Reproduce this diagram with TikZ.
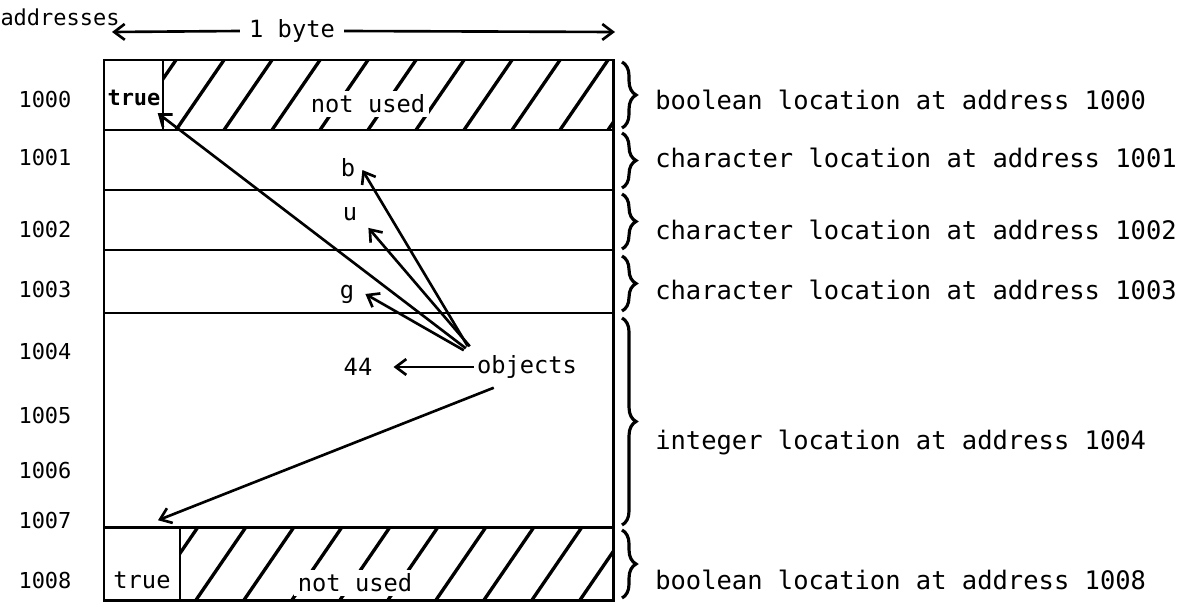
\documentclass[tikz,border=0pt]{standalone}
\usepackage{fontspec}
\setmonofont{DejaVu Sans Mono}
\usetikzlibrary{arrows.meta, positioning, decorations.pathreplacing, calc}

\begin{document}
\begin{tikzpicture}[
  x=0.02cm, y=-0.02cm,
  >={Straight Barb[length=6pt, width=9pt]},
  line width=1.7pt,
  addr/.style  = {font=\ttfamily\fontsize{12.5}{14}\selectfont, inner sep=1pt},
  desc/.style  = {font=\ttfamily\fontsize{14.5}{16}\selectfont, inner sep=1pt, anchor=west},
  val/.style   = {font=\ttfamily\fontsize{13.5}{16}\selectfont, inner sep=1pt},
  flag/.style  = {font=\ttfamily\fontsize{12.5}{14}\selectfont, inner sep=1pt},
  brc/.style   = {decorate, decoration={brace, amplitude=8pt}, line width=1.8pt},
  ptr/.style   = {->, line width=1.5pt},
]
  \useasboundingbox (0,0) rectangle (1189,615);

  % header
  \node[addr] (addrhd) at (60,17) {addresses};
  \node[val]  (byte)   at (292,31) {1 byte};
  \coordinate (bleft)  at (112,32);
  \coordinate (bright) at (615,32);
  \draw[->, line width=1.5pt] ($(byte.west)+(-6,0)$) -- (bleft);
  \draw[->, line width=1.5pt] ($(byte.east)+(6,0)$) -- (bright);

  % memory cells
  \draw (104,60) rectangle (613,600);
  \foreach \yy in {130,190,250,313,527}
    \draw (104,\yy) -- (613,\yy);
  \draw (163,60) -- (163,130);
  \draw (180,527) -- (180,600);

  % hatching of unused bytes
  \begin{scope}
    \clip (163,60) rectangle (613,130);
    \foreach \xx in {128,176,...,660}
      \draw[line width=1.9pt] (\xx,130) -- ++(48,-70);
  \end{scope}
  \begin{scope}
    \clip (180,527) rectangle (613,600);
    \foreach \xx in {148,196,...,660}
      \draw[line width=1.9pt] (\xx,600) -- ++(50,-73);
  \end{scope}
  \node[val, fill=white, inner sep=2pt] (nu1) at (368,104) {not used};
  \node[val, fill=white, inner sep=2pt] (nu2) at (355,583) {not used};

  % addresses
  \foreach \a/\yy in {1000/100,1001/158,1002/230,1003/290,1004/352,
                      1005/415,1006/470,1007/520,1008/580}
    \node[addr] (a\a) at (45,\yy) {\a};

  % contents
  \node[flag] (t1000) at (134,98)  {\bfseries true};
  \node[val]  (cb)    at (348,168) {b};
  \node[val]  (cu)    at (350,214) {u};
  \node[val]  (cg)    at (347,294) {g};
  \node[val]  (n44)   at (358,367) {44};
  \node[val]  (t1008) at (142,580) {true};
  \node[val]  (obj)   at (527,367) {objects};

  \draw[ptr] ($(obj.north west)+(-8,-4)$)  -- ($(t1000.south east)+(-6,4)$);
  \draw[ptr] ($(obj.north west)+(-6,-6)$)  -- ($(cb.east)+(4,2)$);
  \draw[ptr] ($(obj.north west)+(-4,-6)$)  -- ($(cu.south east)+(8,4)$);
  \draw[ptr] ($(obj.north west)+(-10,-2)$) -- ($(cg.east)+(8,0)$);
  \draw[ptr] (obj.west) -- ($(n44.east)+(18,0)$);
  \draw[ptr] ($(obj.south west)+(20,6)$)   -- ($(t1008.north)+(16,-48)$);

  % braces and descriptions
  \draw[brc] (622,62)  -- (622,128) coordinate[midway] (m1000);
  \draw[brc] (622,133) -- (622,188) coordinate[midway] (m1001);
  \draw[brc] (622,194) -- (622,249) coordinate[midway] (m1002);
  \draw[brc] (622,256) -- (622,311) coordinate[midway] (m1003);
  \draw[brc] (622,318) -- (622,525) coordinate[midway] (m1004);
  \draw[brc] (622,530) -- (622,598) coordinate[midway] (m1008);

  \node[desc] (d1000) at (652,100) {boolean location at address 1000};
  \node[desc] (d1001) at (652,158) {character location at address 1001};
  \node[desc] (d1002) at (652,230) {character location at address 1002};
  \node[desc] (d1003) at (652,290) {character location at address 1003};
  \node[desc] (d1004) at (652,442) {integer location at address 1004};
  \node[desc] (d1008) at (652,580) {boolean location at address 1008};
\end{tikzpicture}
\end{document}
